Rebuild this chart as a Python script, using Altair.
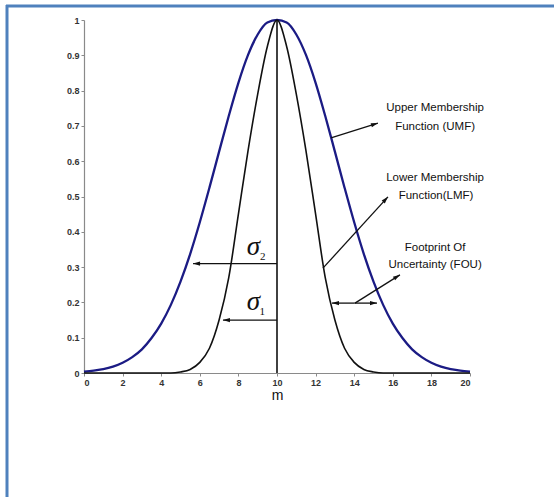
import math
import altair as alt
import pandas as pd

# ---------------- data ----------------
x_vals = [0, 0.5, 1, 1.5, 2, 2.5, 3, 3.5, 4, 4.5, 5, 5.5, 6, 6.5, 7, 7.5, 8, 8.5, 9, 9.5,
          10, 10.5, 11, 11.5, 12, 12.5, 13, 13.5, 14, 14.5, 15, 15.5, 16, 16.5, 17, 17.5,
          18, 18.5, 19, 19.5, 20]
umf_vals = [0.004, 0.007, 0.011, 0.018, 0.029, 0.045, 0.067, 0.099, 0.140, 0.193, 0.259,
            0.337, 0.427, 0.525, 0.627, 0.728, 0.822, 0.901, 0.959, 0.993, 1.0,
            0.993, 0.959, 0.901, 0.822, 0.728, 0.627, 0.525, 0.427, 0.337, 0.259,
            0.193, 0.140, 0.099, 0.067, 0.045, 0.029, 0.018, 0.011, 0.007, 0.004]
lmf_vals = [0, 0, 0, 0, 0, 0, 0, 0, 0, 0, 0.003, 0.01, 0.03, 0.07, 0.15, 0.27, 0.45, 0.63,
            0.79, 0.925, 1.0, 0.925, 0.79, 0.63, 0.45, 0.27, 0.15, 0.07, 0.03, 0.01, 0.003,
            0, 0, 0, 0, 0, 0, 0, 0, 0, 0]

x_ticks = [0, 2, 4, 6, 8, 10, 12, 14, 16, 18, 20]
y_ticks = [0, 0.1, 0.2, 0.3, 0.4, 0.5, 0.6, 0.7, 0.8, 0.9, 1]

center_x = [10]
center_y0 = [0]
center_y1 = [1]

# arrows: tail -> tip
arrow_x1 = [10, 10, 12.8, 12.38, 14.0, 14.0, 14.04]
arrow_y1 = [0.31, 0.15, 0.666, 0.297, 0.198, 0.198, 0.198]
arrow_x2 = [5.65, 7.2, 15.23, 15.75, 12.85, 15.18, 16.37]
arrow_y2 = [0.31, 0.15, 0.708, 0.499, 0.198, 0.198, 0.278]

label_text = ["Upper Membership", "Function (UMF)", "Lower Membership", "Function(LMF)",
              "Footprint Of", "Uncertainty (FOU)"]
label_x = [18.19, 18.19, 18.19, 18.24, 18.19, 18.19]
label_y = [0.751, 0.697, 0.552, 0.501, 0.354, 0.306]

sigma_text = ["σ", "σ"]
sigma_x = [8.78, 8.78]
sigma_y = [0.356, 0.202]
sub_text = ["2", "1"]
sub_x = [9.26, 9.24]
sub_y = [0.330, 0.172]

# ---------------- layout ----------------
W, H = 386, 353
PAD = {"left": 84, "top": 20, "right": 84, "bottom": 124}

curves = pd.DataFrame({"x": x_vals * 2,
                       "y": umf_vals + lmf_vals,
                       "s": ["UMF"] * len(x_vals) + ["LMF"] * len(x_vals)})
umf_df = curves[curves.s == "UMF"]
lmf_df = curves[curves.s == "LMF"]

arrows = pd.DataFrame({"x1": arrow_x1, "y1": arrow_y1, "x2": arrow_x2, "y2": arrow_y2})
arrows["angle"] = [
    (math.degrees(math.atan2((b - a) * W / 20, (d - c) * H)) + 360) % 360
    for a, b, c, d in zip(arrow_x1, arrow_x2, arrow_y1, arrow_y2)
]
labels = pd.DataFrame({"t": label_text, "x": label_x, "y": label_y})
sig = pd.DataFrame({"t": sigma_text, "x": sigma_x, "y": sigma_y})
sub = pd.DataFrame({"t": sub_text, "x": sub_x, "y": sub_y})
center = pd.DataFrame({"x": center_x, "y0": center_y0, "y1": center_y1})
dummy = pd.DataFrame({"a": [0]})

xscale = alt.Scale(domain=[0, 20], nice=False, zero=False)
yscale = alt.Scale(domain=[0, 1], nice=False, zero=False)
xaxis = alt.Axis(values=x_ticks, title="m", grid=False, format="~g")
yaxis = alt.Axis(values=y_ticks, title=None, grid=False, format="~g")


def X(f):
    return alt.X(f, type="quantitative", scale=xscale, axis=xaxis)


def Y(f):
    return alt.Y(f, type="quantitative", scale=yscale, axis=yaxis)


umf = alt.Chart(umf_df).mark_line(color="#1b1b84", strokeWidth=2.3, interpolate="monotone").encode(
    x=X("x"), y=Y("y"))
lmf = alt.Chart(lmf_df).mark_line(color="#111111", strokeWidth=1.6, interpolate="monotone").encode(
    x=X("x"), y=Y("y"))
vline = alt.Chart(center).mark_rule(color="#111111", strokeWidth=1.6).encode(
    x=X("x"), y=Y("y0"), y2="y1")
shafts = alt.Chart(arrows).mark_rule(color="#111111", strokeWidth=1.3).encode(
    x=X("x1"), y=Y("y1"), x2="x2", y2="y2")
heads = alt.Chart(arrows).mark_point(
    shape="M0,0L0.3,1L-0.3,1Z", filled=True, color="#111111", opacity=1, size=196, strokeWidth=0
).encode(x=X("x2"), y=Y("y2"), angle=alt.Angle("angle:Q", scale=None))
texts = alt.Chart(labels).mark_text(font="Liberation Sans", fontSize=11.5, color="#111111",
                                    align="center", baseline="middle").encode(
    x=X("x"), y=Y("y"), text="t")
sigmas = alt.Chart(sig).mark_text(font="Liberation Serif", fontSize=27, color="#111111",
                                  fontStyle="italic", align="center", baseline="middle").encode(
    x=X("x"), y=Y("y"), text="t")
subs = alt.Chart(sub).mark_text(font="Liberation Serif", fontSize=11, color="#111111",
                                align="center", baseline="middle").encode(
    x=X("x"), y=Y("y"), text="t")

border_left = alt.Chart(dummy).mark_rule(color="#4f81bd", strokeWidth=3).encode(
    x=alt.value(-77), y=alt.value(-15), y2=alt.value(H + 124))
border_top = alt.Chart(dummy).mark_rule(color="#4f81bd", strokeWidth=3).encode(
    x=alt.value(-78), x2=alt.value(W + 84), y=alt.value(-14))

chart = alt.layer(umf, lmf, vline, shafts, heads, texts, sigmas, subs, border_left, border_top).properties(
    width=W, height=H,
    autosize=alt.AutoSizeParams(type="none"),
    padding=PAD,
    background="white",
).configure_view(strokeWidth=0).configure_axis(
    domainColor="#8a8a8a", tickColor="#8a8a8a", tickSize=3, domainWidth=1.2,
    labelFont="Liberation Sans", labelFontSize=9, labelFontWeight="bold", labelColor="#333333",
    labelPadding=2,
    titleFont="Liberation Sans", titleFontSize=14, titleFontWeight="normal", titleColor="#111111",
    titlePadding=1,
)

chart.save("out.html", embed_options={"renderer": "svg", "actions": False})
